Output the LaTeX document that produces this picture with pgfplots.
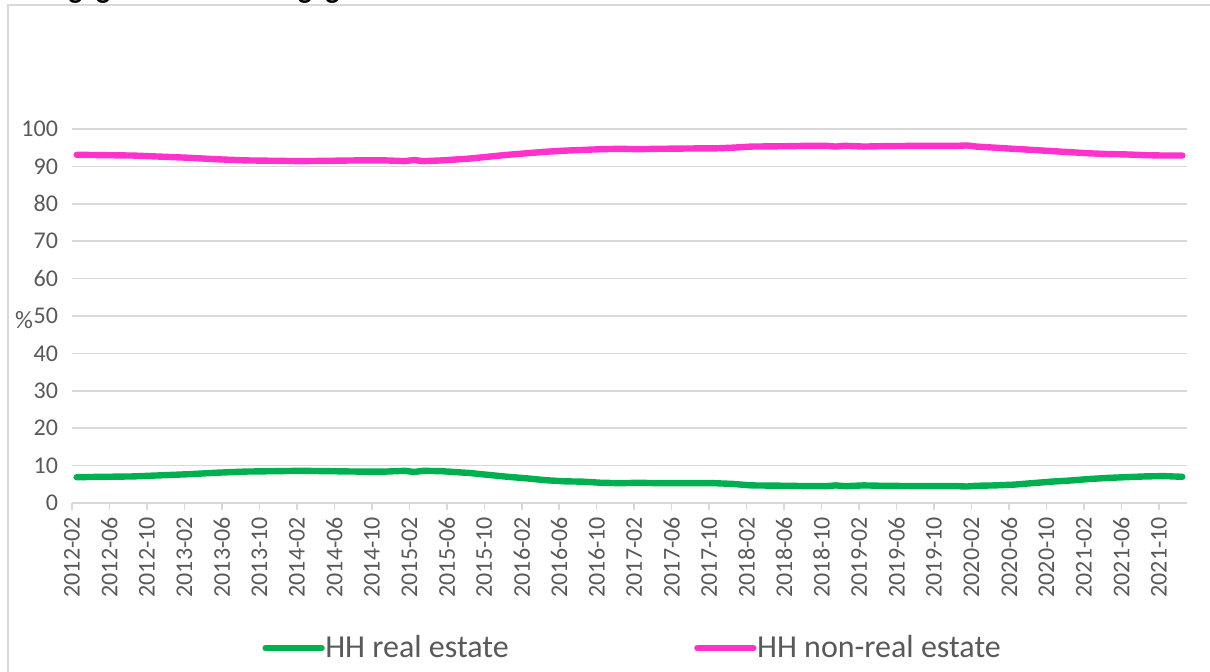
\documentclass[border=0pt]{standalone}
\usepackage{fontspec}
\setmainfont{Carlito}
\usepackage{pgfplots}
\pgfplotsset{compat=1.18}
\definecolor{hhgreen}{HTML}{00B050}
\definecolor{hhpink}{HTML}{FF33CC}
\definecolor{txtgray}{HTML}{595959}
\definecolor{gridgray}{HTML}{D9D9D9}
\begin{document}
\begin{tikzpicture}[x=0.5pt,y=0.5pt]
\useasboundingbox (0,0) rectangle (1210,672);
\draw[gridgray, line width=1pt] (8,-20) -- (8,667) -- (1230,667);
\node[anchor=base west, font=\fontsize{14.5}{17}\selectfont\bfseries, inner sep=0pt] at (7,673.5) {Mortgage and non-mortgage loans};
\begin{axis}[
  at={(36pt,84.5pt)}, anchor=south west,
  scale only axis, width=557.5pt, height=187pt,
  xmin=-0.5, xmax=118.5, ymin=0, ymax=100,
  xtick={-0.5,3.5,...,115.5},
  xticklabels={2012-02,2012-06,2012-10,2013-02,2013-06,2013-10,2014-02,2014-06,2014-10,2015-02,2015-06,2015-10,2016-02,2016-06,2016-10,2017-02,2017-06,2017-10,2018-02,2018-06,2018-10,2019-02,2019-06,2019-10,2020-02,2020-06,2020-10,2021-02,2021-06,2021-10},
  ytick={0,10,...,100},
  ymajorgrids, grid style={gridgray, line width=0.75pt},
  axis x line*=bottom, axis y line*=left,
  x axis line style={gridgray, line width=0.75pt, -},
  y axis line style={draw=none},
  tick align=outside, major tick length=3.5pt,
  xtick style={gridgray, line width=0.75pt},
  ytick style={draw=none},
  ticklabel style={font=\fontsize{12}{14}\selectfont, text=txtgray},
  /pgf/number format/assume math mode=true,
  xticklabel style={rotate=90, anchor=east},
  yticklabel style={anchor=east},
  ylabel={\%},
  every axis y label/.style={at={(axis description cs:-0.043,0.489)}, anchor=center, font=\fontsize{12.5}{14}\selectfont, text=txtgray},
  legend columns=2,
  legend style={at={(0.1704,-0.388)}, anchor=west, draw=none, fill=none,
    font=\fontsize{16}{19}\selectfont, text=txtgray, inner sep=0pt,
    nodes={inner sep=1.25pt},
    /tikz/every odd column/.append style={column sep=-1pt},
    /tikz/every even column/.append style={column sep=91.5pt}},
  legend cell align=left,
  legend image code/.code={\draw[#1, line cap=round] (0pt,0pt) -- (28pt,0pt);},
  every axis plot/.append style={line width=3.2pt, line cap=round, line join=round},
]
\addplot[hhgreen] coordinates {
(0,6.9)(3,7.0)(6,7.1)(9,7.4)(12,7.7)(15,8.1)(18,8.4)(21,8.5)(24,8.6)(27,8.5)(30,8.4)(33,8.4)(35,8.6)(36,8.3)(37,8.6)(39,8.5)(42,8.0)(44,7.5)(46,7.0)(48,6.6)(50,6.1)(52,5.8)(54,5.7)(56,5.4)(58,5.3)(60,5.4)(62,5.3)(66,5.3)(68,5.3)(70,5.1)(72,4.7)(76,4.6)(78,4.5)(80,4.5)(81,4.7)(82,4.5)(84,4.7)(86,4.6)(90,4.5)(94,4.5)(95,4.4)(96,4.6)(98,4.7)(100,4.9)(102,5.3)(104,5.7)(106,6.0)(108,6.4)(110,6.7)(112,6.9)(114,7.1)(116,7.2)(118,7.0)
};
\addlegendentry{HH real estate}
\addplot[hhpink] coordinates {
(0,93.1)(3,93.0)(6,92.9)(9,92.6)(12,92.3)(15,91.9)(18,91.6)(21,91.5)(24,91.4)(27,91.5)(30,91.6)(33,91.6)(35,91.4)(36,91.7)(37,91.4)(39,91.6)(42,92.1)(44,92.6)(46,93.1)(48,93.5)(50,93.9)(52,94.2)(54,94.4)(56,94.6)(58,94.7)(60,94.6)(62,94.7)(66,94.8)(68,94.8)(70,95.0)(72,95.3)(76,95.4)(78,95.5)(80,95.5)(81,95.3)(82,95.5)(84,95.3)(86,95.4)(90,95.5)(94,95.5)(95,95.6)(96,95.3)(98,95.0)(100,94.7)(102,94.4)(104,94.1)(106,93.8)(108,93.5)(110,93.3)(112,93.2)(114,93.0)(116,92.9)(118,92.9)
};
\addlegendentry{HH non-real estate}
\end{axis}
\end{tikzpicture}
\end{document}
